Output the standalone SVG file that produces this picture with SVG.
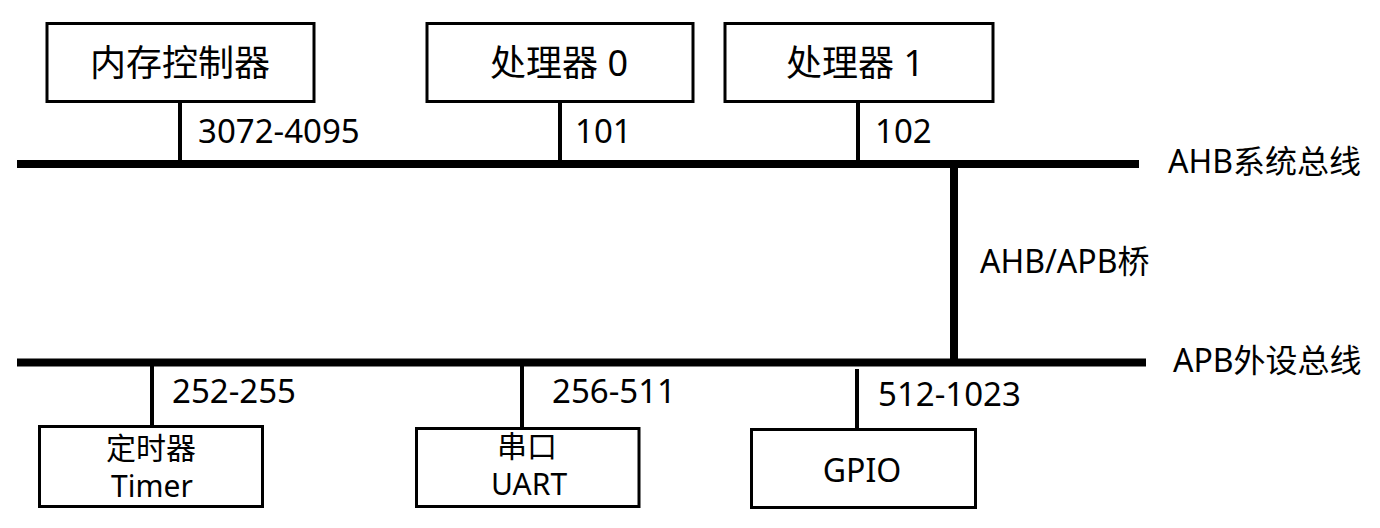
<svg xmlns="http://www.w3.org/2000/svg" width="1380" height="528" viewBox="0 0 1380 528">
<style>
.box{fill:#fff;stroke:#000;stroke-width:3}
.t{font-family:"Noto Sans","Noto Sans CJK SC",sans-serif;fill:#000}
.title{font-size:36px;text-anchor:middle}
.small{font-size:30px;text-anchor:middle}
.lab{font-size:33px}
.bus{font-size:32px}
.bus-line{stroke:#000;stroke-width:8}
.tap{stroke:#000;stroke-width:4}
</style>
<rect width="1380" height="528" fill="#fff"/>
<g id="connectors">
<line class="bus-line" x1="17" y1="164" x2="1139" y2="164"/>
<line class="bus-line" x1="17" y1="362.5" x2="1146" y2="362.5"/>
<line class="bus-line" x1="954" y1="164" x2="954" y2="362.5"/>
<line class="tap" x1="180" y1="102" x2="180" y2="162"/>
<line class="tap" x1="560" y1="102" x2="560" y2="162"/>
<line class="tap" x1="858" y1="102" x2="858" y2="162"/>
<line class="tap" x1="152" y1="364" x2="152" y2="426"/>
<line class="tap" x1="522" y1="364" x2="522" y2="428"/>
<line class="tap" x1="857" y1="369" x2="857" y2="429"/>
</g>
<g id="bus-labels">
<text class="t bus" x="1168" y="173">AHB系统总线</text>
<text class="t bus" x="1173" y="372">APB外设总线</text>
<text class="t bus" x="980" y="273">AHB/APB桥</text>
<text class="t lab" x="198" y="143">3072-4095</text>
<text class="t lab" x="575" y="143">101</text>
<text class="t lab" x="875" y="143">102</text>
<text class="t lab" x="172" y="403">252-255</text>
<text class="t lab" x="552" y="403">256-511</text>
<text class="t lab" x="878" y="406">512-1023</text>
</g>
<g id="mem">
<rect class="box" x="47" y="23.5" width="267" height="78"/>
<text class="t title" x="180" y="76">内存控制器</text>
</g>
<g id="cpu0">
<rect class="box" x="427" y="23.5" width="266" height="78"/>
<text class="t title" x="559" y="76">处理器 0</text>
</g>
<g id="cpu1">
<rect class="box" x="725" y="23.5" width="268" height="78"/>
<text class="t title" x="855" y="76">处理器 1</text>
</g>
<g id="timer">
<rect class="box" x="39.5" y="426.5" width="223" height="80"/>
<text class="t small" x="151" y="459">定时器</text>
<text class="t small" x="152" y="497">Timer</text>
</g>
<g id="uart">
<rect class="box" x="416.5" y="428.5" width="222.5" height="78"/>
<text class="t small" x="527" y="457">串口</text>
<text class="t small" x="529" y="495">UART</text>
</g>
<g id="gpio">
<rect class="box" x="751.5" y="429.5" width="224" height="78"/>
<text class="t" style="font-size:32px;text-anchor:middle" x="862" y="482">GPIO</text>
</g>
</svg>
